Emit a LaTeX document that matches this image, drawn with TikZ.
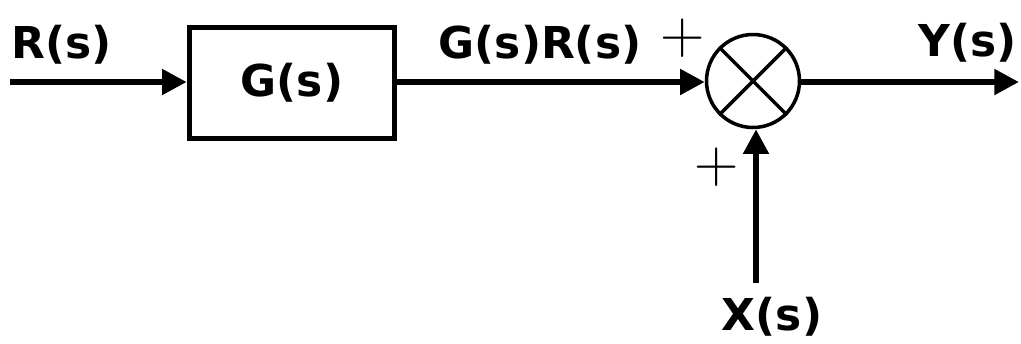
\documentclass[tikz,border=0pt]{standalone}
\usepackage{fontspec}
\setmainfont{DejaVu Sans}
\newfontfamily\plusfont{Latin Modern Roman}
\usetikzlibrary{arrows.meta,positioning}

\begin{document}
\begin{tikzpicture}[
		x=0.02cm, y=-0.02cm,
		font=\bfseries\fontsize{25}{28}\selectfont,
		signal/.style={line width=3.4pt,-{Triangle[length=14pt,width=14pt]}},
		block/.style={draw,line width=3.2pt,minimum width=4.1cm,minimum height=2.22cm,inner sep=0pt},
		summer/.style={draw,circle,line width=2pt,minimum size=1.86cm,inner sep=0pt},
		sign/.style={font=\plusfont\mdseries\fontsize{35}{35}\selectfont,inner sep=0pt}]
		\useasboundingbox (0,0) rectangle (1021,343);
		
		% Draw blocks
		\node[block] (G) at (292,83) {G(s)};
		\node[summer] (sum) at (753,81) {};
		\draw[line width=2pt] (sum.north west) -- (sum.south east)
		(sum.north east) -- (sum.south west);
		
		\draw
		(10,82) coordinate (in)
		(1019,82) coordinate (out)
		(756,283) coordinate (xin);
		
		% Draw signals
		\draw[signal] (in) -- (G.west |- in);
		\draw[signal] (G.east |- in) -- (sum.west |- in);
		\draw[signal] (sum.east |- in) -- (out);
		\draw[signal] (xin) -- (sum.south -| xin);
		
		% Labels
		\node (rlab) at (62,45) {R(s)};
		\node (grlab) at (540,45) {G(s)R(s)};
		\node (ylab) at (968,43) {Y(s)};
		\node (xlab) at (772,317) {X(s)};
		\node[sign] (plus1) at (683,38) {+};
		\node[sign] (plus2) at (717,167) {+};
		
\end{tikzpicture}
\end{document}
